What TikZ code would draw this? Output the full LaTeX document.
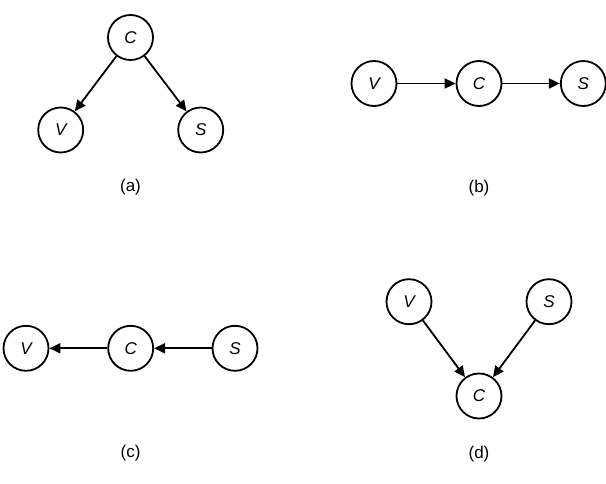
\documentclass[tikz,border=0pt]{standalone}
\usepackage{fontspec}
\setmainfont{Liberation Sans}
\usetikzlibrary{arrows.meta}
\begin{document}
\begin{tikzpicture}[x=1pt,y=-1pt,
  var/.style={circle,draw,line width=1.8pt,minimum size=45pt,inner sep=0pt,font=\fontsize{17}{19}\selectfont\itshape},
  subcap/.style={font=\fontsize{17}{19}\selectfont},
  edge/.style={line width=1.8pt,-{Triangle[length=11pt,width=10pt]}}]
\useasboundingbox (0,0) rectangle (606,484);
% (a)
\node[var] (aC) at (130.5,37.5) {C};
\node[var] (aV) at (60.7,130) {V};
\node[var] (aS) at (200.7,130) {S};
\draw[edge] (aC) -- (aV);
\draw[edge] (aC) -- (aS);
\node[subcap] (la) at (130.5,187.5) {(a)};
% (b)
\node[var] (bV) at (374,83.5) {V};
\node[var] (bC) at (479,83.5) {C};
\node[var] (bS) at (583.3,83.5) {S};
\draw[edge] (bV) -- (bC);
\draw[edge] (bC) -- (bS);
\node[subcap] (lb) at (479,188) {(b)};
% (c)
\node[var] (cV) at (26,348.3) {V};
\node[var] (cC) at (130.7,348.3) {C};
\node[var] (cS) at (235,348.3) {S};
\draw[edge] (cC) -- (cV);
\draw[edge] (cS) -- (cC);
\node[subcap] (lc) at (130.5,453) {(c)};
% (d)
\node[var] (dV) at (409,301.7) {V};
\node[var] (dS) at (549,301.7) {S};
\node[var] (dC) at (479,396) {C};
\draw[edge] (dV) -- (dC);
\draw[edge] (dS) -- (dC);
\node[subcap] (ld) at (479,454) {(d)};
\end{tikzpicture}
\end{document}
